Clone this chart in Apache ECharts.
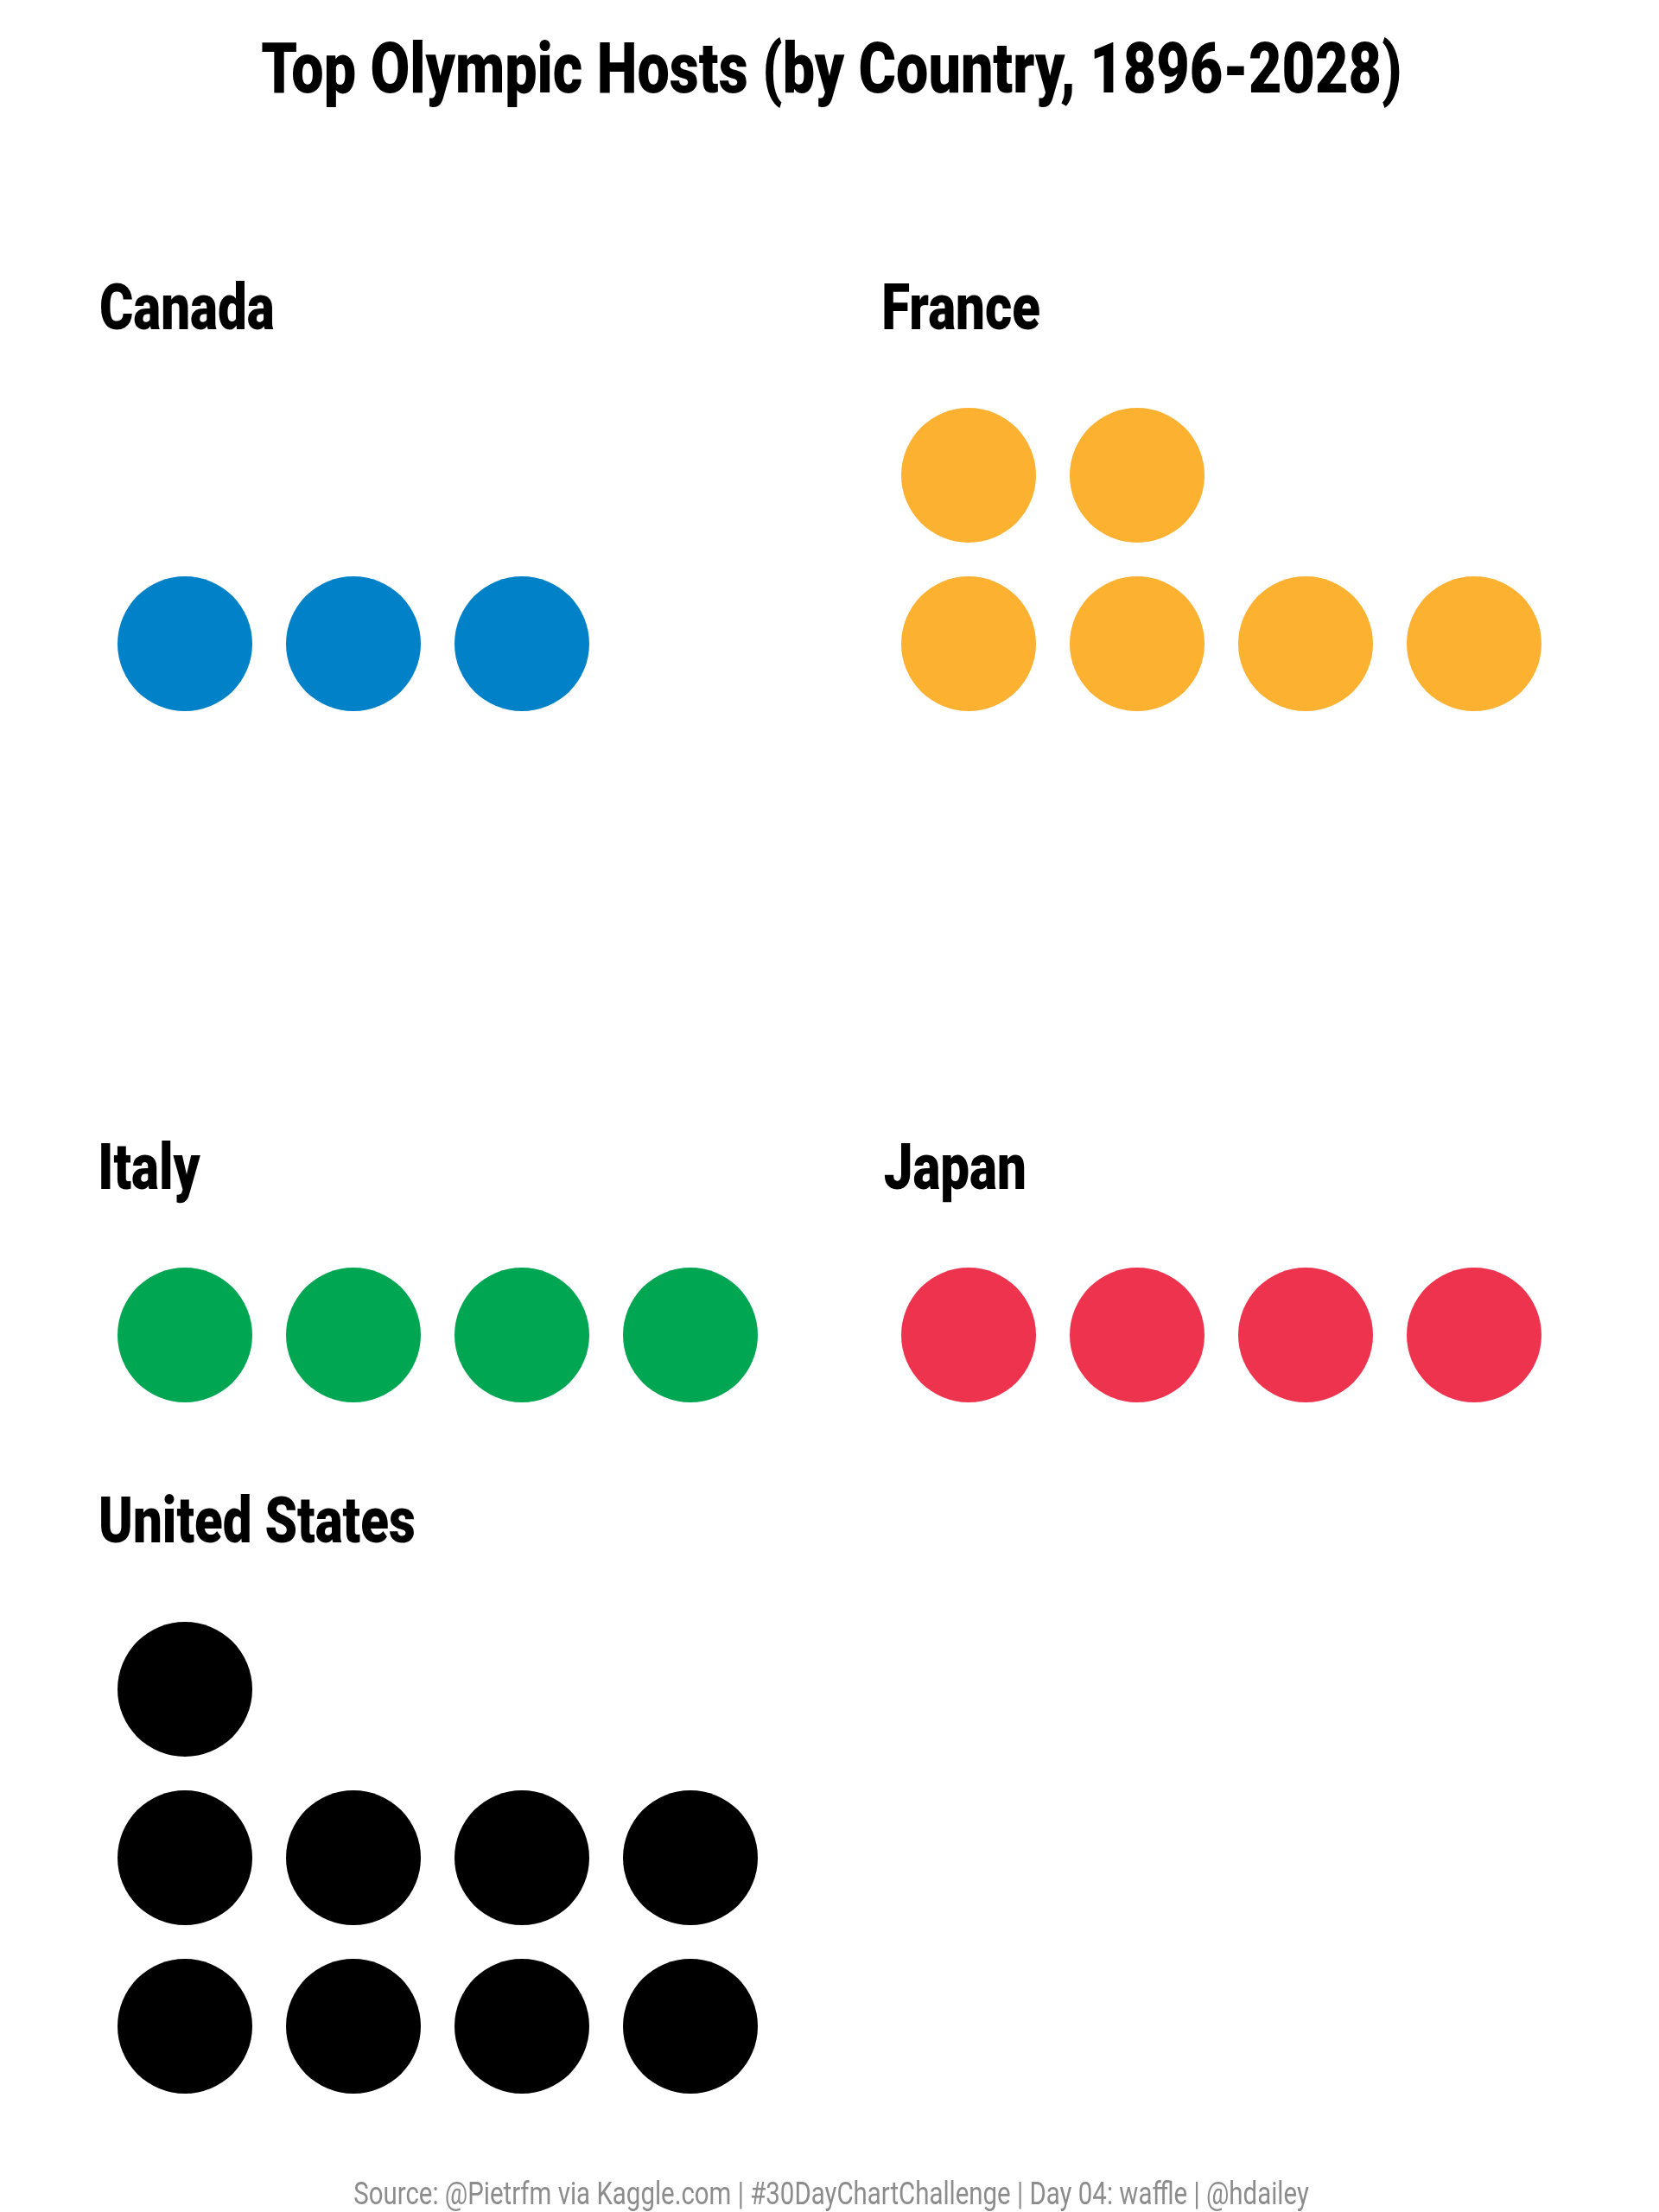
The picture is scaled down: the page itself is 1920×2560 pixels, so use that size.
<!DOCTYPE html>
<html>
<head>
<meta charset="utf-8">
<script src="https://cdn.jsdelivr.net/npm/echarts@6/dist/echarts.min.js"></script>
<style>
html,body{margin:0;padding:0;background:#ffffff;}
#chart{width:1920px;height:2560px;}
</style>
</head>
<body>
<div id="chart"></div>
<script>
// ---------------- DATA ----------------
const countries = ['Canada', 'France', 'Italy', 'Japan', 'United States'];
const hostCounts = [3, 6, 4, 4, 9];
const countryColors = ['#0081C8', '#FCB131', '#00A651', '#EE334E', '#000000'];
const titleText = 'Top Olympic Hosts (by Country, 1896-2028)';
const captionText = 'Source: @Pietrfm via Kaggle.com | #30DayChartChallenge | Day 04: waffle | @hdailey';

// ---------------- LAYOUT ----------------
const COLS = 4;          // waffle columns per panel
const CELL = 195;        // px per waffle cell
const DOT = 156;         // dot diameter
const panelCols = [0, 1, 0, 1, 0];          // facet column of each panel
const panelRowIdx = [0, 0, 1, 1, 2];        // facet row of each panel
const facetColLeft = [116.5, 1023.5];
const facetRowTop = [452.5, 1447.5, 1857.5];
const labelCapTop = [328, 1323, 1732];

// rows needed per facet row (shared within a facet row)
const rowsPerFacetRow = [];
countries.forEach((c, i) => {
  const r = Math.ceil(hostCounts[i] / COLS);
  const fr = panelRowIdx[i];
  rowsPerFacetRow[fr] = Math.max(rowsPerFacetRow[fr] || 0, r);
});

// ---------------- TEXT HELPERS ----------------
const mctx = document.createElement('canvas').getContext('2d');
function capRatio(fontTpl) {
  mctx.font = fontTpl.replace('{s}', '100px');
  mctx.textBaseline = 'alphabetic';
  return mctx.measureText('H').actualBoundingBoxAscent / 100;
}
function textEl(text, font, x, y, s, color) {
  return {
    type: 'text', x: x, y: y, scaleX: s, silent: true,
    style: { text: text, font: font, fill: color, align: 'left', verticalAlign: 'middle',
             textAlign: 'left', textVerticalAlign: 'middle' }
  };
}
// fit text so that ink starts at inkLeft, cap top at capTop, ink width = inkWidth
function fitText(text, fontTpl, capH, inkLeft, capTop, inkWidth, color) {
  const size = capH / capRatio(fontTpl);
  const font = fontTpl.replace('{s}', size.toFixed(2) + 'px');
  mctx.font = font; mctx.textAlign = 'left'; mctx.textBaseline = 'middle';
  const m = mctx.measureText(text);
  const h = mctx.measureText('H');
  const s = inkWidth / (m.actualBoundingBoxLeft + m.actualBoundingBoxRight);
  return textEl(text, font, inkLeft + s * m.actualBoundingBoxLeft,
                capTop + h.actualBoundingBoxAscent, s, color);
}

const BOLD = '900 {s} Roboto, "Liberation Sans", sans-serif';
const REG = '400 {s} Roboto, "Liberation Sans", sans-serif';

// ---------------- BUILD OPTION ----------------
const grids = [], xAxes = [], yAxes = [], series = [];
const graphics = [];

graphics.push(fitText(titleText, BOLD, 59, 303, 49, 1317, '#000000'));
graphics.push(fitText(captionText, REG, 27, 410, 2525, 1105, '#8c8c8c'));

// common condensed scale for facet labels, taken from "United States" (363 px wide in reference)
const labelScale = fitText(countries[4], BOLD, 54, 119, labelCapTop[2], 363, '#000').scaleX;
const labelSize = 54 / capRatio(BOLD);
const labelFont = BOLD.replace('{s}', labelSize.toFixed(2) + 'px');

countries.forEach((name, i) => {
  const fr = panelRowIdx[i];
  const rows = rowsPerFacetRow[fr];
  const left = facetColLeft[panelCols[i]];
  const top = facetRowTop[fr];
  grids.push({ left: left, top: top, width: COLS * CELL, height: rows * CELL, containLabel: false });
  xAxes.push({ type: 'value', gridIndex: i, min: -0.5, max: COLS - 0.5, show: false });
  yAxes.push({ type: 'value', gridIndex: i, min: -0.5, max: rows - 0.5, show: false });
  const pts = [];
  for (let k = 0; k < hostCounts[i]; k++) pts.push([k % COLS, Math.floor(k / COLS)]);
  series.push({
    name: name,
    type: 'scatter',
    xAxisIndex: i,
    yAxisIndex: i,
    data: pts,
    symbol: 'circle',
    symbolSize: DOT,
    itemStyle: { color: countryColors[i], opacity: 1 },
    silent: true,
    animation: false
  });
  // facet label
  mctx.font = labelFont; mctx.textAlign = 'left'; mctx.textBaseline = 'middle';
  const m = mctx.measureText(name);
  const h = mctx.measureText('H');
  graphics.push(textEl(name, labelFont, left + labelScale * m.actualBoundingBoxLeft,
                       labelCapTop[fr] + h.actualBoundingBoxAscent, labelScale, '#000000'));
});

const chart = echarts.init(document.getElementById('chart'), null, { renderer: 'canvas', width: 1920, height: 2560 });
chart.setOption({
  backgroundColor: '#ffffff',
  animation: false,
  grid: grids,
  xAxis: xAxes,
  yAxis: yAxes,
  series: series,
  graphic: { elements: graphics }
});
</script>
</body>
</html>
